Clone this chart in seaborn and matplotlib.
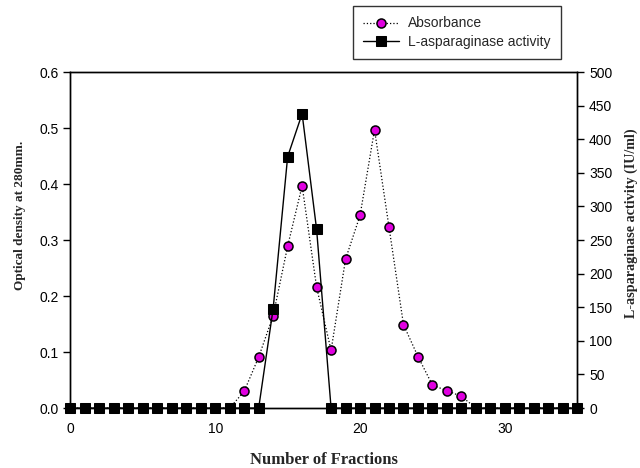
import numpy as np
import pandas as pd
import matplotlib
matplotlib.use("Agg")
import matplotlib.pyplot as plt
import seaborn as sns

# fractions and readings
fractions = list(range(0, 36))
absorbance = [0.0] * 12 + [0.030, 0.091, 0.165, 0.289, 0.397, 0.216, 0.103, 0.266,
                           0.344, 0.497, 0.323, 0.149, 0.092, 0.041, 0.031, 0.021] + [0.0] * 8
activity = [0.0] * 14 + [148, 374, 438, 266] + [0.0] * 18

df = pd.DataFrame({"fraction": fractions, "absorbance": absorbance, "activity": activity})

sns.set_style("ticks")
plt.rcParams["font.family"] = ["Liberation Sans", "DejaVu Sans"]

fig = plt.figure(figsize=(6.4, 4.68), dpi=100)
ax = fig.add_axes([0.110, 0.128, 0.792, 0.718])
ax2 = ax.twinx()

sns.lineplot(data=df, x="fraction", y="absorbance", ax=ax, color="black", linestyle=":",
             linewidth=0.9, marker="o", markersize=6.5, markerfacecolor="#e000e0",
             markeredgecolor="black", markeredgewidth=1.1, label="Absorbance", legend=False,
             clip_on=False)
sns.lineplot(data=df, x="fraction", y="activity", ax=ax2, color="black", linestyle="-",
             linewidth=1.0, marker="s", markersize=7, markerfacecolor="black",
             markeredgecolor="black", label="L-asparaginase activity", legend=False,
             clip_on=False)

ax.set_xlim(0, 35)
ax.set_ylim(0, 0.6)
ax2.set_ylim(0, 500)
ax.set_xticks([0, 10, 20, 30])
ax.set_yticks(np.arange(0, 0.61, 0.1))
ax.set_yticklabels(["0.0", "0.1", "0.2", "0.3", "0.4", "0.5", "0.6"])
ax2.set_yticks(range(0, 501, 50))

for a in (ax, ax2):
    for s in a.spines.values():
        s.set_linewidth(1.0)
        s.set_color("black")
    a.tick_params(labelsize=10, width=1.0, length=5, colors="black")
ax.tick_params(axis="x", length=0, pad=10)

serif = dict(family=["Liberation Serif", "DejaVu Serif"], fontweight="bold")
ax.set_xlabel("Number of Fractions", fontsize=12, **serif)
ax.xaxis.set_label_coords(0.5, -0.13)
ax.set_ylabel("Optical density at 280mm.", fontsize=9.5, **serif)
ax.yaxis.set_label_coords(-0.088, 0.574)
ax2.set_ylabel("L-asparaginase activity (IU/ml)", rotation=90, fontsize=10.2, **serif)
ax2.yaxis.set_label_coords(1.093, 0.55)

h1, l1 = ax.get_legend_handles_labels()
h2, l2 = ax2.get_legend_handles_labels()
leg = fig.legend(h1 + h2, l1 + l2, loc="upper left", bbox_to_anchor=(0.547, 0.993),
                 frameon=True, fancybox=False, edgecolor="black", fontsize=10,
                 handlelength=2.6, borderpad=0.75, labelspacing=0.3, handletextpad=0.6,
                 borderaxespad=0.2)
leg.get_frame().set_linewidth(1.0)

fig.savefig("out.png", dpi=100)
